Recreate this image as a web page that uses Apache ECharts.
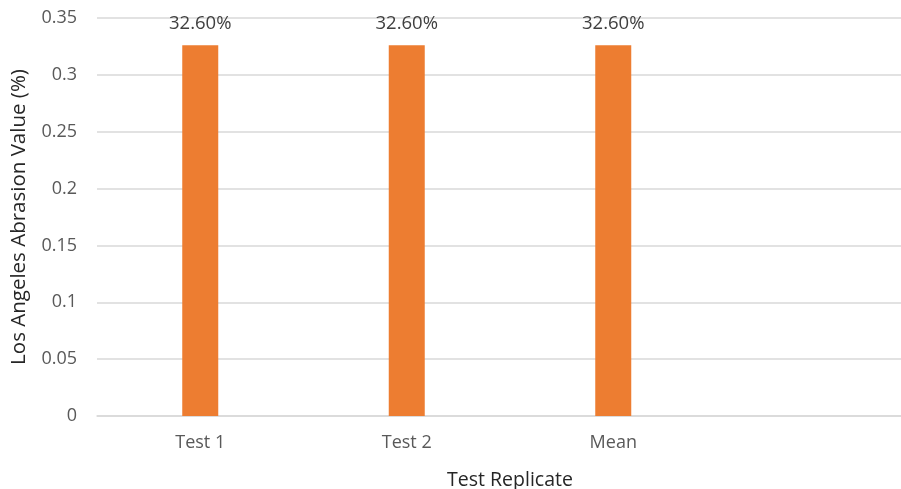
<!DOCTYPE html>
<html>
<head>
<meta charset="utf-8">
<script src="https://cdn.jsdelivr.net/npm/echarts@6/dist/echarts.min.js"></script>
<style>
  html, body { margin: 0; padding: 0; background: #ffffff; }
  #chart { width: 901px; height: 489px; }
</style>
</head>
<body>
<div id="chart"></div>
<script>
// Category slots on the x axis (the last slot is left empty)
const categories = ['Test 1', 'Test 2', 'Mean', ''];
// Los Angeles abrasion values (fraction)
const abrasionValues = [0.326, 0.326, 0.326, null];
// Value-axis tick settings
const yMin = 0;
const yMax = 0.35;
const yStep = 0.05;

const FONT = '"Open Sans", "Liberation Sans", sans-serif';

const chart = echarts.init(document.getElementById('chart'));
chart.setOption({
  animation: false,
  backgroundColor: '#ffffff',
  grid: {
    left: 97, top: 18, width: 826, height: 398,
    containLabel: false,
    outerBoundsMode: 'none'
  },
  xAxis: {
    type: 'category',
    data: categories,
    name: 'Test Replicate',
    nameLocation: 'middle',
    nameGap: 54,
    nameTextStyle: { fontFamily: FONT, fontSize: 19.5, color: '#262626' },
    axisLine: { lineStyle: { color: '#d9d9d9', width: 1.5 } },
    axisTick: { show: false },
    axisLabel: { fontFamily: FONT, fontSize: 18, color: '#595959', margin: 18 }
  },
  yAxis: {
    type: 'value',
    min: yMin,
    max: yMax,
    interval: yStep,
    name: 'Los Angeles Abrasion Value (%)',
    nameLocation: 'middle',
    nameGap: 67,
    nameTextStyle: { fontFamily: FONT, fontSize: 20.5, color: '#262626' },
    axisLine: { show: false },
    axisTick: { show: false },
    axisLabel: {
      fontFamily: FONT, fontSize: 18, color: '#595959', margin: 20,
      formatter: v => String(parseFloat(v.toFixed(2)))
    },
    splitLine: { lineStyle: { color: '#d9d9d9', width: 1.5 } }
  },
  series: [{
    type: 'bar',
    data: abrasionValues,
    barWidth: 36,
    itemStyle: { color: '#ED7D31' },
    label: {
      show: true,
      position: 'top',
      distance: 12,
      fontFamily: FONT,
      fontSize: 18.5,
      color: '#404040',
      formatter: p => (p.value * 100).toFixed(2) + '%'
    }
  }]
});
</script>
</body>
</html>
